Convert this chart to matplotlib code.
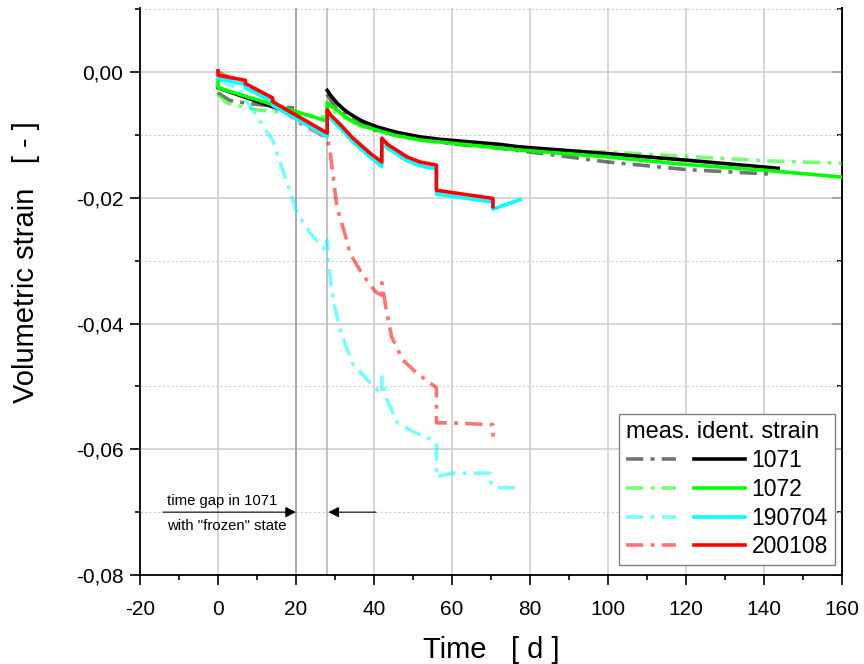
import numpy as np
import matplotlib
matplotlib.use("Agg")
import matplotlib.pyplot as plt
from matplotlib.ticker import MultipleLocator, FuncFormatter
from matplotlib.legend_handler import HandlerTuple

plt.rcParams['font.family'] = ['Liberation Sans', 'DejaVu Sans']
plt.rcParams['axes.unicode_minus'] = False

nan = np.nan
# ---- measured (dash-dot) ----
t_1071_meas = [0, 3, 8, 14, 19.5, nan, 28, 30, 34, 40, 50, 60, 72, 85, 100, 120, 141]
e_1071_meas = [-0.0033, -0.0045, -0.0050, -0.0054, -0.0057, nan, -0.0035, -0.0055, -0.0075,
               -0.0092, -0.0106, -0.0114, -0.0121, -0.0131, -0.0143, -0.0155, -0.0162]

t_1072_meas = [0, 2, 4, 10, 20, 28, 28, 32, 40, 50, 60, 80, 100, 120, 140, 160]
e_1072_meas = [-0.0035, -0.0048, -0.0052, -0.0060, -0.0066, -0.0072, -0.0055, -0.0072, -0.0090,
               -0.0104, -0.0113, -0.0123, -0.0127, -0.0134, -0.0141, -0.0145]

t_190704_meas = [0, 3, 5.6, 9.5, 12.5, 14, 16, 18.5, 20.3, 23.5, 26.7, 28, 28, 28.3, 29, 30, 31.3,
                 34.4, 39, 41.5, 42, 42, 43, 46, 50, 55, 56, 56, 60, 70, 70, 71, 77.4]
e_190704_meas = [-0.0012, -0.0020, -0.0029, -0.0066, -0.0095, -0.0108, -0.0145, -0.0190, -0.0224,
                 -0.0255, -0.0278, -0.0285, -0.0267, -0.0300, -0.0340, -0.0375, -0.0410,
                 -0.0463, -0.0494, -0.0510, -0.0512, -0.0485, -0.0517, -0.0558, -0.0572, -0.0585,
                 -0.0590, -0.0644, -0.0638, -0.0638, -0.0653, -0.0661, -0.0661]

t_200108_meas = [0, 7, 14, 20, 28, 28.7, 30.5, 33, 33.8, 36.4, 39, 40.7, 42, 42, 43, 44.5, 47.4,
                 51, 56, 56, 60, 70.5, 70.5]
e_200108_meas = [0.0, -0.0020, -0.0045, -0.0078, -0.0105, -0.0124, -0.0215, -0.0267, -0.0288,
                 -0.0315, -0.0339, -0.0351, -0.0355, -0.0335, -0.0373, -0.0421, -0.0458,
                 -0.0479, -0.0502, -0.0558, -0.0558, -0.0561, -0.0580]

# ---- identified (solid) ----
t_1071_id = [0, 20, nan, 28, 29, 30.5, 32, 33.5, 35, 37, 39, 40.7, 43, 46, 51.8, 57, 64.6, 72.3,
             77.4, 88, 100.5, 120, 143.6]
e_1071_id = [-0.0025, -0.0068, nan, -0.0029, -0.0038, -0.0049, -0.0058, -0.0065, -0.0071, -0.0078,
             -0.0083, -0.0087, -0.0091, -0.0096, -0.0103, -0.0107, -0.0111, -0.0115, -0.0119,
             -0.0124, -0.0130, -0.0140, -0.0153]

t_1072_id = [0, 0, 28, 28, 29, 30.5, 32, 34.6, 37, 40.7, 45, 51.8, 64.6, 77.4, 100, 120, 140, 160]
e_1072_id = [-0.0015, -0.0025, -0.0078, -0.0048, -0.0054, -0.0060, -0.0068, -0.0079, -0.0086,
             -0.0092, -0.0100, -0.0108, -0.0116, -0.0124, -0.0135, -0.0147, -0.0156, -0.0167]

t_200108_id = [0, 0, 7, 7, 14, 14, 28, 28, 29, 31.3, 34.6, 39, 42, 42, 43.5, 45, 48.5, 51.8, 56,
               56, 70.5, 70.5]
e_200108_id = [0.0002, -0.0005, -0.0013, -0.0018, -0.0041, -0.0047, -0.0097, -0.0060, -0.0069,
               -0.0083, -0.0105, -0.0129, -0.0143, -0.0105, -0.0115, -0.0121, -0.0135, -0.0143,
               -0.0148, -0.0188, -0.0201, -0.0214]

t_190704_id = [0, 7, 7, 14, 14, 28, 28, 29, 31.3, 34.6, 39, 42, 42, 43.5, 45, 48.5, 51.8, 56, 56,
               70.5, 70.5, 77.4]
e_190704_id = [-0.0010, -0.0020, -0.0025, -0.0047, -0.0053, -0.0103, -0.0067, -0.0075, -0.0089,
               -0.0111, -0.0135, -0.0150, -0.0112, -0.0121, -0.0127, -0.0141, -0.0149, -0.0154,
               -0.0194, -0.0207, -0.0218, -0.0203]

labels = ['1071', '1072', '190704', '200108']
colors = ['#000000', '#00ff00', '#00ffff', '#ff0000']
meas_t = [t_1071_meas, t_1072_meas, t_190704_meas, t_200108_meas]
meas_e = [e_1071_meas, e_1072_meas, e_190704_meas, e_200108_meas]
id_t = [t_1071_id, t_1072_id, t_190704_id, t_200108_id]
id_e = [e_1071_id, e_1072_id, e_190704_id, e_200108_id]

fig = plt.figure(figsize=(8.64, 6.64), dpi=100)
ax = fig.add_axes([140/864, 1-575/664, 702/864, 567/664])

ax.set_xlim(-20, 160)
ax.set_ylim(-0.08, 0.0102)

dash = (0, (4.8, 2.0, 1.1, 2.0))
lw = 2.6
meas_handles = []
id_handles = []
for c, tt, ee in zip(colors, meas_t, meas_e):
    h, = ax.plot(tt, ee, color=c, alpha=0.55, lw=lw, linestyle=dash, zorder=3)
    meas_handles.append(h)
for c, tt, ee in zip(colors, id_t, id_e):
    h, = ax.plot(tt, ee, color=c, lw=lw, zorder=4)
    id_handles.append(h)

# grid
ax.xaxis.set_major_locator(MultipleLocator(20))
ax.xaxis.set_minor_locator(MultipleLocator(10))
ax.yaxis.set_major_locator(MultipleLocator(0.02))
ax.yaxis.set_minor_locator(MultipleLocator(0.01))
ax.xaxis.grid(True, which='major', color='#cccccc', lw=1.1, ls='-')
ax.xaxis.grid(False, which='minor')
ax.yaxis.grid(True, which='major', color='#cccccc', lw=1.1, ls='-')
ax.yaxis.grid(True, which='minor', color='#cccccc', lw=0.8, ls=(0, (2, 2)))
ax.set_axisbelow(True)
ax.axvline(20, color='#a0a0a0', lw=1.2, zorder=1)
ax.axvline(28, color='#b8b8b8', lw=1.2, zorder=1)

ax.yaxis.set_major_formatter(FuncFormatter(
    lambda v, p: ('%.2f' % (0.0 if abs(v) < 1e-9 else v)).replace('.', ',')))

ax.spines['top'].set_visible(False)
for s in ['left', 'bottom', 'right']:
    ax.spines[s].set_linewidth(1.3)
ax.tick_params(axis='both', which='major', length=7, width=1.2, labelsize=15, pad=5)
ax.tick_params(axis='both', which='minor', length=3.5, width=1.2)
ax.tick_params(axis='x', which='major', pad=11)
ax.tick_params(axis='y', which='both', right=False)

ax2 = ax.secondary_yaxis('right')
ax2.yaxis.set_major_locator(MultipleLocator(0.02))
ax2.yaxis.set_minor_locator(MultipleLocator(0.01))
ax2.tick_params(which='major', direction='in', length=7, width=1.2, labelright=False)
ax2.tick_params(which='minor', direction='in', length=3.5, width=1.2)
ax2.spines['right'].set_linewidth(1.3)

ax.set_xlabel('Time   [ d ]', fontsize=21, labelpad=12)
ax.set_ylabel('Volumetric strain   [ - ]', fontsize=21)
ax.yaxis.set_label_coords(-0.143, 0.552)

# annotation
ax.annotate('', xy=(20, -0.07), xytext=(-14.1, -0.07),
            arrowprops=dict(arrowstyle='-|>', color='black', lw=0.8, mutation_scale=16,
                            shrinkA=0, shrinkB=0))
ax.annotate('', xy=(28.3, -0.07), xytext=(40.5, -0.07),
            arrowprops=dict(arrowstyle='-|>', color='black', lw=0.8, mutation_scale=16,
                            shrinkA=0, shrinkB=0))
ax.text(-13.1, -0.0688, 'time gap in 1071', fontsize=10.7, va='baseline', ha='left')
ax.text(-13.1, -0.0728, 'with "frozen" state', fontsize=10.7, va='baseline', ha='left')

leg = ax.legend([(m, i) for m, i in zip(meas_handles, id_handles)], labels,
                handler_map={tuple: HandlerTuple(ndivide=None, pad=0.8)},
                title='meas. ident. strain', fontsize=16.5, title_fontsize=17,
                loc='lower right', bbox_to_anchor=(0.99, 0.017),
                handlelength=5.2, handletextpad=0.3, labelspacing=0.26,
                borderpad=0.3, borderaxespad=0, fancybox=False, framealpha=1,
                edgecolor='#808080', alignment='left')
leg.get_frame().set_linewidth(1.0)
leg.set_zorder(10)

fig.savefig('out.png', dpi=100, facecolor='white')
